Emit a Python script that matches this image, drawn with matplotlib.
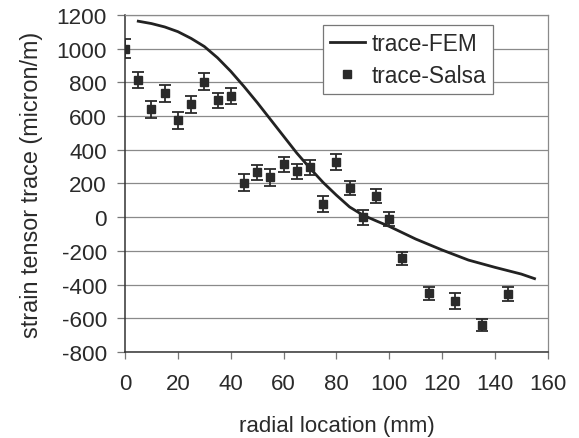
import matplotlib
matplotlib.use("Agg")
import matplotlib.pyplot as plt
from matplotlib.lines import Line2D

plt.rcParams['font.family'] = ['Liberation Sans', 'DejaVu Sans']
plt.rcParams['axes.unicode_minus'] = False

# FEM trace curve
fem_x = [5, 10, 15, 20, 25, 30, 35, 40, 45, 50, 55, 60, 65, 70, 75, 80, 85,
         90, 95, 100, 110, 120, 130, 140, 150, 155]
fem_y = [1162, 1148, 1128, 1100, 1060, 1012, 945, 865, 775, 680, 580, 480,
         380, 290, 205, 130, 60, 12, -22, -55, -130, -195, -255, -298, -338, -365]

# Salsa measurements
salsa_x = [0, 5, 10, 15, 20, 25, 30, 35, 40, 45, 50, 55, 60, 65, 70, 75, 80,
           85, 90, 95, 100, 105, 115, 125, 135, 145]
salsa_y = [1000, 815, 640, 735, 575, 668, 804, 694, 718, 205, 265, 235, 312,
           272, 295, 78, 325, 172, 0, 125, -12, -245, -452, -498, -640, -455]
salsa_err = [58, 48, 50, 50, 50, 50, 48, 45, 45, 50, 45, 48, 45, 45, 45, 45,
             48, 42, 45, 42, 40, 38, 40, 45, 38, 40]

x_ticks = [0, 20, 40, 60, 80, 100, 120, 140, 160]
y_ticks = [-800, -600, -400, -200, 0, 200, 400, 600, 800, 1000, 1200]

fig = plt.figure(figsize=(5.79, 4.39), dpi=100)
ax = fig.add_axes([0.216, 0.196, 0.730, 0.768])

txt = '#2a2a2a'
ax.plot(fem_x, fem_y, color='#222222', lw=2.0, zorder=3)
ax.errorbar(salsa_x, salsa_y, yerr=salsa_err, fmt='s', color='#2a2a2a',
            ms=5.5, ecolor='#2a2a2a', elinewidth=1.3, capsize=4,
            capthick=1.3, zorder=4)

ax.set_xlim(0, 160)
ax.set_ylim(-800, 1200)
ax.set_xticks(x_ticks)
ax.set_yticks(y_ticks)
ax.yaxis.grid(True, color='#8a8a8a', lw=0.9)
ax.set_axisbelow(True)

for s in ['left', 'bottom']:
    ax.spines[s].set_color('#333333')
    ax.spines[s].set_linewidth(1.1)
for s in ['top', 'right']:
    ax.spines[s].set_color('#8a8a8a')
    ax.spines[s].set_linewidth(0.9)

ax.tick_params(axis='y', direction='out', length=6, width=0.9, color='#777777',
               labelsize=16.2, labelcolor=txt, pad=7)
ax.tick_params(axis='x', direction='out', length=5, width=0.9, color='#777777',
               labelsize=16, labelcolor=txt, pad=10)

ax.set_xlabel('radial location (mm)', fontsize=16, color=txt, labelpad=15)
ax.set_ylabel('strain tensor trace (micron/m)', fontsize=16.8, color=txt, labelpad=10)

handles = [Line2D([], [], color='#222222', lw=2.0),
           Line2D([], [], ls='none', marker='s', ms=5.5, color='#2a2a2a')]
leg = ax.legend(handles, ['trace-FEM', 'trace-Salsa'], loc='upper left',
                bbox_to_anchor=(0.468, 0.970), fontsize=16.3, frameon=True,
                fancybox=False, edgecolor='#777777', framealpha=1,
                handlelength=1.55, handletextpad=0.3, borderpad=0.3,
                labelspacing=0.4, borderaxespad=0)
leg.get_frame().set_linewidth(0.9)
for t in leg.get_texts():
    t.set_color(txt)

fig.savefig('out.png', dpi=100, facecolor='white')
